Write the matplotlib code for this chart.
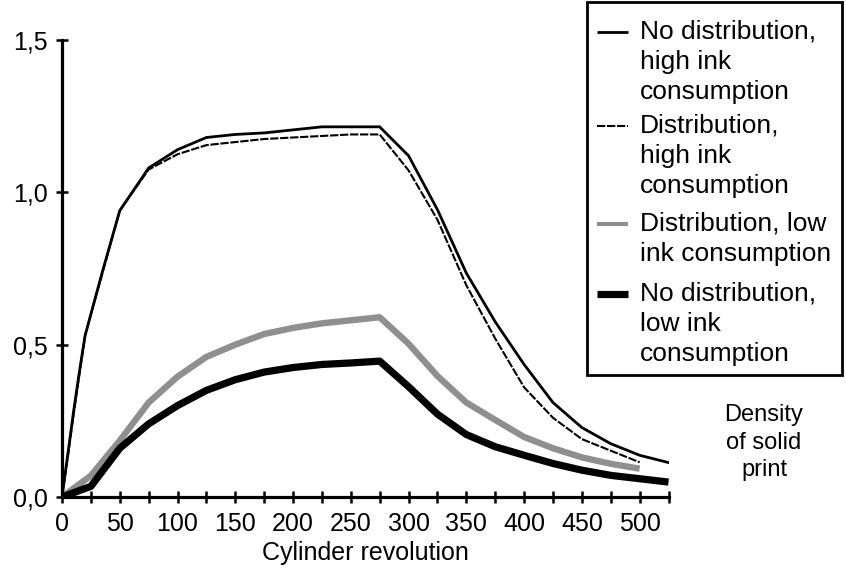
import matplotlib
matplotlib.use('Agg')
import matplotlib.pyplot as plt
from matplotlib.lines import Line2D
from matplotlib.patches import Rectangle

plt.rcParams['font.family'] = ['Liberation Sans', 'DejaVu Sans']

# ---- data ----
x_high = [0, 5, 10, 15, 20, 25, 35, 50, 75, 100, 125, 150, 175, 200, 225, 250, 275,
          300, 325, 350, 375, 400, 425, 450, 475, 500, 525]
nodist_high = [0, 0.14, 0.28, 0.41, 0.53, 0.60, 0.74, 0.94, 1.08, 1.14, 1.18, 1.19, 1.195,
               1.205, 1.215, 1.215, 1.215, 1.12, 0.943, 0.735, 0.575, 0.435, 0.31, 0.228,
               0.175, 0.137, 0.113]
x_dist_high = [0, 5, 10, 15, 20, 25, 35, 50, 75, 100, 125, 150, 175, 200, 225, 250, 275,
               300, 325, 350, 375, 400, 425, 450, 475, 500]
dist_high = [0, 0.13, 0.27, 0.40, 0.53, 0.60, 0.735, 0.94, 1.075, 1.125, 1.155, 1.165, 1.175,
             1.18, 1.185, 1.19, 1.19, 1.072, 0.91, 0.695, 0.52, 0.36, 0.26, 0.19, 0.152, 0.114]
x_dist_low = [0, 25, 50, 75, 100, 125, 150, 175, 200, 225, 250, 275, 300, 325, 350, 375,
              400, 425, 450, 475, 500]
dist_low = [0, 0.07, 0.185, 0.31, 0.395, 0.46, 0.50, 0.535, 0.555, 0.57, 0.58, 0.59, 0.503,
            0.397, 0.31, 0.253, 0.197, 0.16, 0.13, 0.109, 0.093]
x_nodist_low = [0, 25, 50, 75, 100, 125, 150, 175, 200, 225, 250, 275, 300, 325, 350, 375,
                400, 425, 450, 475, 500, 525]
nodist_low = [0, 0.035, 0.16, 0.24, 0.30, 0.35, 0.385, 0.41, 0.425, 0.435, 0.44, 0.446, 0.362,
              0.272, 0.205, 0.165, 0.137, 0.11, 0.088, 0.071, 0.06, 0.049]

x_ticks = list(range(0, 526, 25))
x_tick_labels = [str(v) if v % 50 == 0 else '' for v in x_ticks]
y_ticks = [0.0, 0.5, 1.0, 1.5]
y_tick_labels = ['0,0', '0,5', '1,0', '1,5']

legend_labels = [
    ['No distribution,', 'high ink', 'consumption'],
    ['Distribution,', 'high ink', 'consumption'],
    ['Distribution, low', 'ink consumption'],
    ['No distribution,', 'low ink', 'consumption'],
]
y_title_lines = ['Density', 'of solid', 'print']

# ---- figure ----
W, H = 846, 571
fig = plt.figure(figsize=(W / 100, H / 100), dpi=100)
ax = fig.add_axes([62 / W, 1 - 497 / H, (668.5 - 62) / W, (497 - 40) / H])

def fx(x):
    return x / W

def fy(y):
    return 1 - y / H

styles = [
    dict(color='black', lw=2.0, ls='-'),
    dict(color='black', lw=1.5, ls=(0, (4, 0.8))),
    dict(color='#8f8f8f', lw=4.6, ls='-'),
    dict(color='black', lw=5.2, ls='-'),
]
legend_lw = [2.0, 1.5, 3.0, 5.2]

ax.plot(x_high, nodist_high, solid_joinstyle='miter', **styles[0])
ax.plot(x_dist_high, dist_high, **styles[1])
ax.plot(x_dist_low, dist_low, solid_capstyle='butt', **styles[2])
ax.plot(x_nodist_low, nodist_low, solid_capstyle='butt', **styles[3])

ax.set_xlim(0, 525)
ax.set_ylim(0, 1.5)
ax.set_xticks(x_ticks)
ax.set_xticklabels(x_tick_labels)
ax.set_yticks(y_ticks)
ax.set_yticklabels(y_tick_labels)
for s in ['top', 'right']:
    ax.spines[s].set_visible(False)
for s in ['left', 'bottom']:
    ax.spines[s].set_linewidth(2.3)
ax.tick_params(direction='inout', length=9, width=1.8, labelsize=18, colors='black')
ax.tick_params(axis='x', pad=6)
ax.tick_params(axis='y', pad=6)
ax.set_xlabel('Cylinder revolution', fontsize=18, labelpad=4)

# ---- legend box ----
fig.patches.append(Rectangle((fx(587), fy(375)), (842 - 587) / W, (375 - 2) / H,
                             transform=fig.transFigure, fill=False, ec='black', lw=2.0))
line_rows = [[32, 62, 92], [126, 156, 186], [224, 254], [294, 324, 354]]
for st, lw, rows, labels in zip(styles, legend_lw, line_rows, legend_labels):
    st = dict(st, lw=lw)
    fig.add_artist(Line2D([fx(597), fx(628)], [fy(rows[0]), fy(rows[0])],
                          transform=fig.transFigure, solid_capstyle='butt', **st))
    for yy, txt in zip(rows, labels):
        fig.text(fx(640), fy(yy), txt, fontsize=19, ha='left', va='center')

for yy, txt in zip([415, 443, 470], y_title_lines):
    fig.text(fx(764), fy(yy), txt, fontsize=17, ha='center', va='center')

fig.savefig('out.png', dpi=100)
